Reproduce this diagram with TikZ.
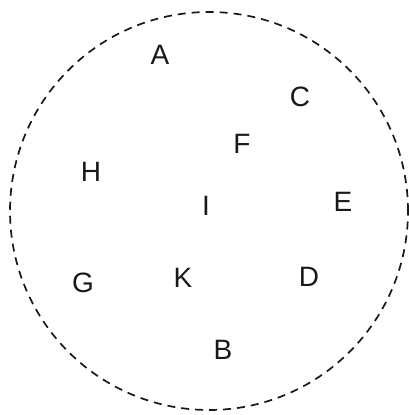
\documentclass[tikz,border=0pt]{standalone}
\usepackage{fontspec}
\setmainfont{Liberation Sans}
\begin{document}
\begin{tikzpicture}[x=1pt,y=-1pt,
  lbl/.style={font=\fontsize{28}{32}\selectfont, inner sep=0pt, text=black!90},
  ring/.style={draw=black!90, line width=1.7pt, dash pattern=on 8pt off 6pt}]
\useasboundingbox (0,0) rectangle (409,415);
\node[ring, circle, minimum size=398pt, inner sep=0pt] (circ) at (209,211) {};
\node[lbl] (A) at (160,55) {A};
\node[lbl] (C) at (300,97) {C};
\node[lbl] (F) at (242,144) {F};
\node[lbl] (H) at (91,172) {H};
\node[lbl] (E) at (343,202) {E};
\node[lbl] (I) at (206,206) {I};
\node[lbl] (G) at (83,283) {G};
\node[lbl] (K) at (183,278) {K};
\node[lbl] (D) at (309,277) {D};
\node[lbl] (B) at (223,350) {B};
\end{tikzpicture}
\end{document}
